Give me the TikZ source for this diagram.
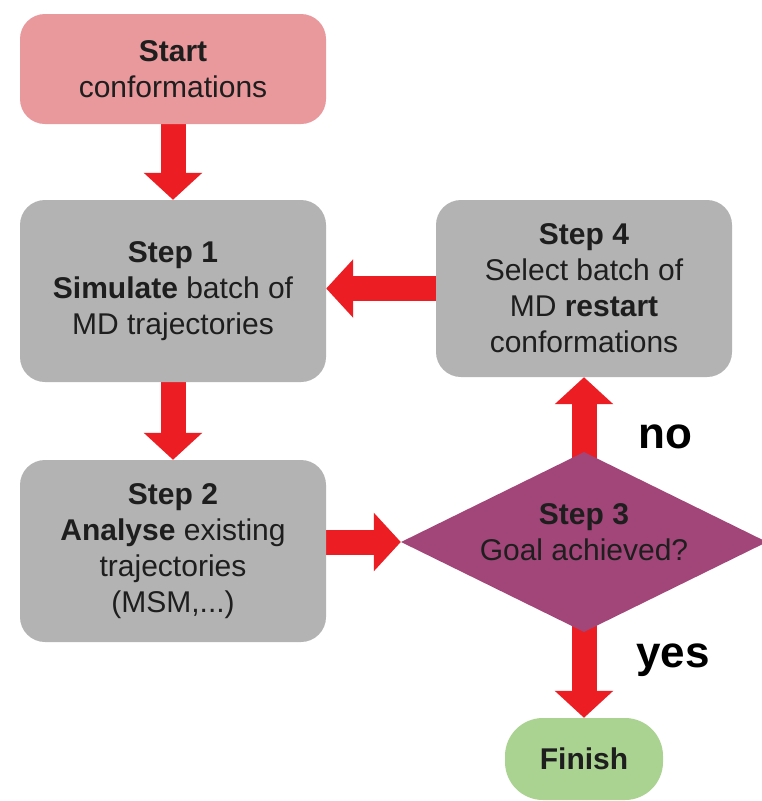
\documentclass[tikz,border=0pt]{standalone}
\usepackage{fontspec}
\setmainfont{Liberation Sans}
\usetikzlibrary{shapes.geometric,arrows.meta,backgrounds}
\definecolor{startpink}{RGB}{233,152,156}
\definecolor{boxgray}{RGB}{179,179,179}
\definecolor{diapurple}{RGB}{162,70,122}
\definecolor{fingreen}{RGB}{170,210,145}
\definecolor{arrred}{RGB}{236,30,36}
\definecolor{txt}{RGB}{30,30,30}
\tikzset{
  box/.style={rectangle, rounded corners=25pt, inner sep=0pt, align=center,
    text=txt, font=\fontsize{30}{36}\selectfont},
  grbox/.style={box, fill=boxgray},
  dia/.style={diamond, fill=diapurple, inner sep=0pt, minimum width=366pt, minimum height=180pt},
  bigarrow/.style={draw=arrred, line width=25pt, -{Triangle[width=57pt,length=27pt]}},
  answer/.style={font=\fontsize{44}{50}\selectfont\bfseries, text=black}
}
\begin{document}
\begin{tikzpicture}[x=1pt,y=-1pt]
\useasboundingbox (0,0) rectangle (762,801);
\node[box, fill=startpink, minimum width=306pt, minimum height=110pt] (start) at (173,69)
  {\textbf{Start}\\conformations};
\node[grbox, minimum width=306pt, minimum height=182pt] (step1) at (173,291)
  {\textbf{Step 1}\\\textbf{Simulate} batch of\\MD trajectories};
\node[grbox, minimum width=306pt, minimum height=182pt] (step2) at (173,551)
  {\textbf{Step 2}\\\textbf{Analyse} existing\\trajectories\\(MSM,...)};
\node[grbox, minimum width=296pt, minimum height=177pt] (step4) at (584,288.5)
  {\textbf{Step 4}\\Select batch of\\MD \textbf{restart}\\conformations};
\node[dia] (dia) at (584,542) {};
\node[align=center, text=txt, font=\fontsize{30}{36}\selectfont, inner sep=0pt] (dialbl) at (584,532)
  {\textbf{Step 3}\\Goal achieved?};
\node[box, fill=fingreen, rounded corners=38pt, minimum width=158pt, minimum height=82pt, font=\fontsize{30}{36}\selectfont\bfseries] (finish) at (584,759)
  {Finish};
\node[answer] (no) at (665,437) {no};
\node[answer] (yes) at (673,660) {yes};
\begin{scope}[on background layer]
\fill[white] (0,0) rectangle (762,801);
\draw[bigarrow] (start.south) -- (step1.north);
\draw[bigarrow] (step1.south) -- (step2.north);
\draw[bigarrow] (step2.east |- dia.west) -- (dia.west);
\draw[bigarrow] (dia.center) -- (step4.south);
\draw[bigarrow] (dia.center) -- (finish.north);
\draw[bigarrow] (step4.west) -- (step4.west -| step1.east);
\end{scope}
\end{tikzpicture}
\end{document}
